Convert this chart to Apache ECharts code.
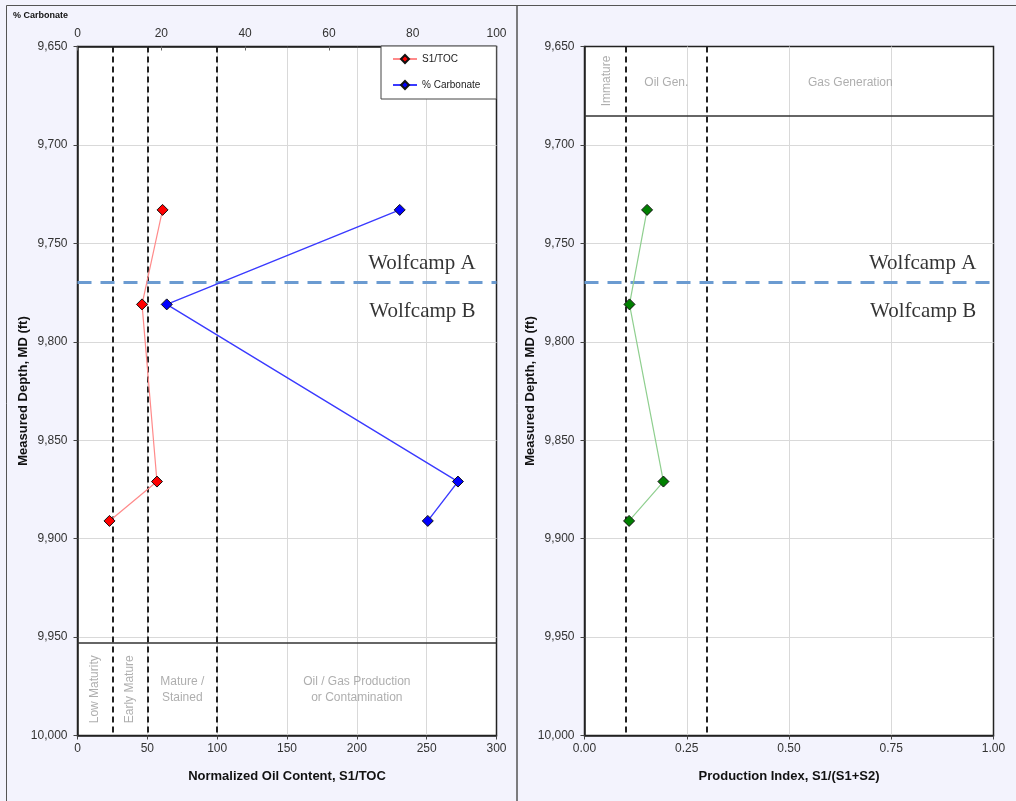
<!DOCTYPE html>
<html>
<head>
<meta charset="utf-8">
<script src="https://cdn.jsdelivr.net/npm/echarts@6/dist/echarts.min.js"></script>
<style>
  html, body { margin: 0; padding: 0; background: #f3f3fd; }
  #chart { width: 1016px; height: 801px; }
</style>
</head>
<body>
<div id="chart"></div>
<script>
// Sample depths (ft, MD) and the measurements taken at each depth
const depths = [9733, 9781, 9871, 9891];
const s1Toc = [60.9, 46.2, 56.9, 22.9];           // normalized oil content
const carbonatePct = [76.9, 21.3, 90.8, 83.6];    // % carbonate
const prodIndex = [0.153, 0.110, 0.193, 0.109];   // S1/(S1+S2)

// Axis ranges
const depthRange = [9650, 10000, 50];
const s1TocRange = [0, 300, 50];
const carbRange = [0, 100, 20];
const piRange = [0, 1, 0.25];

// Interpretation boundaries
const s1TocCutoffs = [25, 50, 100];
const piCutoffs = [0.1, 0.3];
const s1TocZoneDepth = 9953;
const piZoneDepth = 9685;
const formationTop = 9770;
const formationNames = ['Wolfcamp A', 'Wolfcamp B'];

const s1TocZones = [
  { x: 12.5, text: 'Low Maturity', rotate: 90 },
  { x: 37.5, text: 'Early Mature', rotate: 90 },
  { x: 75, text: 'Mature /\nStained', rotate: 0 },
  { x: 200, text: 'Oil / Gas Production\nor Contamination', rotate: 0 }
];
const piZones = [
  { x: 0.05, text: 'Immature', rotate: 90 },
  { x: 0.2, text: 'Oil Gen.', rotate: 0 },
  { x: 0.65, text: 'Gas Generation', rotate: 0 }
];

const FONT = "'Liberation Sans', Arial, sans-serif";
const SERIF = "'Liberation Serif', 'Times New Roman', serif";

const pairs = (xs) => xs.map((v, i) => [v, depths[i]]);
const fmtDepth = (v) => v.toLocaleString('en-US');

const gridLine = { show: true, showMinLine: false, showMaxLine: false,
  lineStyle: { color: '#d9d9d9', width: 1 } };

function depthAxis(gridIndex) {
  return {
    type: 'value', gridIndex, inverse: true,
    min: depthRange[0], max: depthRange[1], interval: depthRange[2],
    name: 'Measured Depth, MD (ft)', nameLocation: 'middle', nameGap: 48,
    nameMoveOverlap: false,
    nameRotate: 90,
    nameTextStyle: { fontFamily: FONT, fontWeight: 'bold', fontSize: 13, color: '#111' },
    axisLine: { show: true, lineStyle: { color: '#222', width: 1.5 } },
    axisTick: { show: true, length: 4, lineStyle: { color: '#444' } },
    axisLabel: { formatter: fmtDepth, fontFamily: FONT, fontSize: 12, color: '#333', margin: 10 },
    splitLine: gridLine
  };
}

function bottomAxis(gridIndex, range, name, fmt) {
  return {
    type: 'value', gridIndex, position: 'bottom',
    min: range[0], max: range[1], interval: range[2],
    name, nameLocation: 'middle', nameGap: 34,
    nameTextStyle: { fontFamily: FONT, fontWeight: 'bold', fontSize: 13, color: '#111' },
    axisLine: { show: true, onZero: false, lineStyle: { color: '#222', width: 1.5 } },
    axisTick: { show: true, length: 4, lineStyle: { color: '#444' } },
    axisLabel: { formatter: fmt, fontFamily: FONT, fontSize: 12, color: '#333', margin: 7 },
    splitLine: gridLine
  };
}

const cutoffStyle = { color: '#222', width: 2, type: [6, 4] };
const zoneEdgeStyle = { color: '#333', width: 1.5, type: 'solid' };
const formationStyle = { color: '#6b9bd1', width: 3, type: [14, 9] };

function zoneSeries(xAxisIndex, yAxisIndex, zones, labelDepth, edgeDepth, cutoffs, dy) {
  return {
    type: 'scatter', xAxisIndex, yAxisIndex, silent: true, z: 1,
    symbolSize: 0,
    data: zones.map(z => ({
      value: [z.x, labelDepth],
      label: {
        show: true, formatter: z.text, rotate: z.rotate, position: 'inside',
        offset: [0, dy],
        color: '#9a9a9a', fontFamily: FONT, fontSize: 12, lineHeight: 16, align: 'center'
      }
    })),
    markLine: {
      silent: true, symbol: 'none', animation: false,
      label: { show: false },
      data: cutoffs.map(c => ({ xAxis: c, lineStyle: cutoffStyle }))
        .concat([{ yAxis: edgeDepth, lineStyle: zoneEdgeStyle }])
    }
  };
}

function formationSeries(xAxisIndex, yAxisIndex, xLabel) {
  const lbl = (text, va, dy) => ({
    show: true, formatter: text, position: 'inside', align: 'right', verticalAlign: va,
    offset: [0, dy], color: '#000', fontFamily: SERIF, fontSize: 21
  });
  return {
    type: 'scatter', xAxisIndex, yAxisIndex, silent: true, z: 2,
    symbolSize: 0,
    data: [
      { value: [xLabel, formationTop], label: lbl(formationNames[0], 'bottom', -9) },
      { value: [xLabel, formationTop], label: lbl(formationNames[1], 'top', 18) }
    ],
    markLine: {
      silent: true, symbol: 'none', animation: false,
      label: { show: false },
      data: [{ yAxis: formationTop, lineStyle: formationStyle }]
    }
  };
}

function dataSeries(name, xAxisIndex, yAxisIndex, xs, lineColor, fill, width) {
  return {
    name, type: 'line', xAxisIndex, yAxisIndex, z: 5,
    data: pairs(xs),
    symbol: 'diamond', symbolSize: 11, showSymbol: true,
    lineStyle: { color: lineColor, width },
    itemStyle: { color: fill, borderColor: '#111', borderWidth: 1 },
    animation: false
  };
}

const option = {
  backgroundColor: '#f3f3fd',
  animation: false,
  grid: [
    { left: 77.5, top: 46.5, width: 419, height: 689, show: true,
      backgroundColor: '#ffffff', borderColor: '#222', borderWidth: 1.5 },
    { left: 584.5, top: 46.5, width: 409, height: 689, show: true,
      backgroundColor: '#ffffff', borderColor: '#222', borderWidth: 1.5 }
  ],
  xAxis: [
    bottomAxis(0, s1TocRange, 'Normalized Oil Content, S1/TOC', v => String(v)),
    {
      type: 'value', gridIndex: 0, position: 'top',
      min: carbRange[0], max: carbRange[1], interval: carbRange[2],
      axisLine: { show: true, lineStyle: { color: '#222', width: 1.5 } },
      axisTick: { show: true, inside: true, length: 4, lineStyle: { color: '#666' } },
      axisLabel: { fontFamily: FONT, fontSize: 12, color: '#333', margin: 7 },
      splitLine: { show: false }
    },
    bottomAxis(1, piRange, 'Production Index, S1/(S1+S2)', v => v.toFixed(2))
  ],
  yAxis: [depthAxis(0), depthAxis(1)],
  legend: {
    left: 381, top: 46, orient: 'vertical',
    padding: [8, 16, 9, 11], itemGap: 16,
    itemWidth: 24, itemHeight: 10,
    backgroundColor: '#ffffff', borderColor: '#444', borderWidth: 1, borderRadius: 0,
    textStyle: { fontFamily: FONT, fontSize: 10, color: '#222' },
    data: ['S1/TOC', '% Carbonate']
  },
  graphic: [
    { type: 'rect', silent: true, z: -1,
      shape: { x: 6.5, y: 5.5, width: 510.5, height: 820 },
      style: { fill: 'none', stroke: '#555', lineWidth: 1 } },
    { type: 'rect', silent: true, z: -1,
      shape: { x: 517, y: 5.5, width: 520, height: 820 },
      style: { fill: 'none', stroke: '#555', lineWidth: 1 } },
    { type: 'text', left: 13, top: 11, silent: true,
      style: { text: '% Carbonate', fontFamily: FONT, fontSize: 9, fontWeight: 'bold', fill: '#111' } }
  ],
  series: [
    zoneSeries(0, 0, s1TocZones, (s1TocZoneDepth + depthRange[1]) / 2, s1TocZoneDepth,
      s1TocCutoffs, 0),
    zoneSeries(2, 1, piZones, (depthRange[0] + piZoneDepth) / 2, piZoneDepth,
      piCutoffs, 2),
    formationSeries(0, 0, 285),
    formationSeries(2, 1, 0.958),
    dataSeries('S1/TOC', 0, 0, s1Toc, '#ff8a8a', '#ff0000', 1.2),
    dataSeries('% Carbonate', 1, 0, carbonatePct, '#3a3aff', '#0000ff', 1.4),
    dataSeries('Production Index', 2, 1, prodIndex, '#8fcf8f', '#008000', 1.2)
  ]
};

const chart = echarts.init(document.getElementById('chart'), null, { renderer: 'canvas' });
chart.setOption(option);
</script>
</body>
</html>
